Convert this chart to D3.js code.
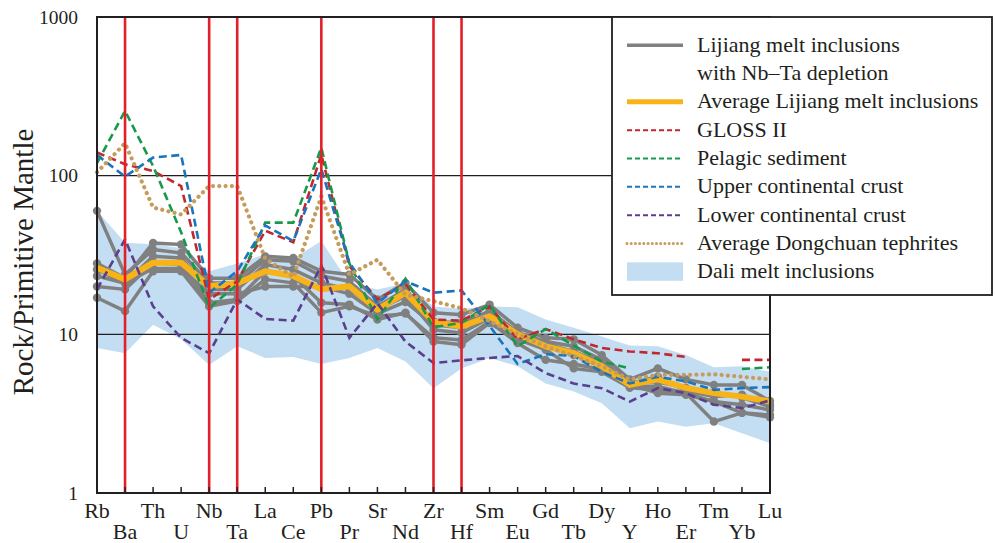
<!DOCTYPE html>
<html>
<head>
<meta charset="utf-8">
<script src="https://cdn.jsdelivr.net/npm/d3@7"></script>
<style>
  html, body { margin: 0; padding: 0; background: #fff; }
  svg { display: block; }
  svg text { font-family: "Liberation Serif", "Times New Roman", Times, "DejaVu Serif", serif; }
</style>
</head>
<body>
<svg id="chart" width="995" height="543"></svg>
<script>
// Primitive-mantle normalised trace element patterns
const elements = ["Rb","Ba","Th","U","Nb","Ta","La","Ce","Pb","Pr","Sr","Nd","Zr","Hf",
                  "Sm","Eu","Gd","Tb","Dy","Y","Ho","Er","Tm","Yb","Lu"];
const yTicks = [1, 10, 100, 1000];
const markedElements = ["Ba","Nb","Ta","Pb","Zr","Hf"];

// Individual Lijiang melt inclusions with Nb–Ta depletion
const lijiang1 = [28, 22.6, 37.7, 36.8, 22.6, 22.6, 31, 30.3, 25, 23.8, 16.6, 21.1, 13.7, 13.3, 15.4, 11, 9.5, 9.3, 7.4, 5.2, 6.1, 5.2, 4.8, 4.8, 3.8];
const lijiang2 = [60, 23.8, 34.2, 32.6, 21.1, 21.1, 29.5, 28.9, 23.3, 21.6, 15, 19.2, 12.1, 11.8, 14, 10.3, 9, 8.4, 6.9, 4.9, 5.4, 4.4, 4.05, 4.16, 3.6];
const lijiang3 = [25.6, 21.1, 31, 30.3, 19.2, 19.2, 27.5, 25.6, 21.1, 19.2, 14.3, 17.4, 10.7, 10.2, 12.7, 9.7, 8.4, 7.4, 6.3, 4.7, 4.7, 4.26, 3.77, 3.6, 3.34];
const lijiang4 = [20, 19.2, 28.3, 27.5, 15.8, 16.6, 25, 23.3, 15.8, 15.4, 12.4, 13.7, 9.0, 8.6, 11.8, 9.3, 8, 6.1, 5.8, 4.6, 4.47, 4.26, 2.82, 3.2, 3.1];
const lijiang5 = [17, 14, 25, 25, 15, 16.2, 22.2, 21.1, 13.7, 15, 13, 13.5, 9.5, 9.2, 12, 8.8, 6.9, 6.5, 6, 4.8, 4.26, 4.16, 3.77, 3.2, 3.0];
const lijiang6 = [23.3, 21, 26, 26, 18, 18, 20, 20, 20, 18, 13.5, 16, 11.5, 11, 13, 10, 8.7, 7.8, 6.6, 5, 5, 4.6, 4.3, 4, 3.5];
const lijiangSamples = [lijiang1, lijiang2, lijiang3, lijiang4, lijiang5, lijiang6];

const lijiangAverage = [26.3, 22.2, 28.3, 28.3, 20.1, 21, 25, 23.3, 19.2, 20.1, 14.3, 18.3, 12, 11.2, 13, 10, 8.4, 7.6, 6.3, 4.8, 5.2, 4.6, 4.26, 4.05, 3.77];

// Reference reservoirs (null = not reported)
const glossII   = [140, 118, 107, 86, 16.6, 21.6, 45, 38, 136, 26.9, 16.6, 20.8, 12.4, 12.2, 15, 9.3, 10.8, 9.3, 8.2, 7.8, 7.6, 7.2, null, 6.9, 6.9];
const pelagic   = [120, 256, 115, 44, 14.7, 20.6, 50.6, 50.6, 150, 28, 12.4, 22.4, 11.1, 11.8, 15.4, 8.4, 10.8, 8.5, 6.75, 6.1, null, null, null, 6.05, 6.2];
const upperCC   = [135, 98.7, 130, 135, 18.3, 25, 48.6, 38.7, 110, 28.3, 15.7, 21.6, 18.3, 18.9, 11.3, 6.5, 7.5, 7.3, 5.8, 4.9, 5.4, 5.05, 4.47, 4.58, 4.65];
const lowerCC   = [19.2, 39.7, 15, 9.5, 7.6, 16.6, 12.5, 12.2, 27.2, 9.5, 15.7, 9.0, 6.6, 6.85, 7.1, 7.3, 5.7, 4.9, 4.58, 3.77, 4.58, 4.26, 3.6, 3.43, 3.83];
const dongchuan = [105, 160, 63, 57, 86, 86, 30, 23, 74, 23.8, 29.5, 17.8, 16.2, 14.6, 12.1, 10, 8.4, 7.3, 6.3, 5.2, 5.55, 5.55, 5.6, 5.4, 5.2];

// Range of Dali melt inclusions
const daliUpper = [60, 37.8, 37, 35, 25, 28, 32, 30, 38.7, 21, 19.2, 21, 15, 14.5, 15, 14.8, 12.4, 11, 9.7, 8.5, 8.4, 7.4, 6.2, 6.3, 5.8];
const daliLower = [8.2, 7.6, 11.5, 9.3, 6.4, 8.4, 7.1, 7.2, 6.5, 7.1, 8.2, 6.75, 4.58, 6.1, 7.1, 6.3, 4.9, 4.37, 3.68, 2.56, 2.82, 2.62, 2.75, 2.38, 2.06];

const legendLabels = [
  ["Lijiang melt inclusions", "with Nb\u2013Ta depletion"],
  ["Average Lijiang melt inclusions"],
  ["GLOSS II"],
  ["Pelagic sediment"],
  ["Upper continental crust"],
  ["Lower continental crust"],
  ["Average Dongchuan tephrites"],
  ["Dali melt inclusions"]
];

const svg = d3.select("#chart");
const plotLeft = 97, plotRight = 770, plotTop = 17, plotBottom = 493;
const serif = "'Liberation Serif', 'Times New Roman', Times, 'DejaVu Serif', serif";

const x = d3.scalePoint().domain(elements).range([plotLeft, plotRight]);
const y = d3.scaleLog().domain([1, 1000]).range([plotBottom, plotTop]);

const ink = "#231f20";
const colors = {
  gray: "#808080", avg: "#f7b318", gloss: "#c1272d", pelagic: "#17994a",
  ucc: "#1b75bc", lcc: "#5b3e8c", dong: "#c69c5d", band: "#c3def3", marker: "#e3202a"
};

// Dali field
const area = d3.area()
  .x((d, i) => x(elements[i]))
  .y0((d, i) => y(daliLower[i]))
  .y1(d => y(d));
svg.append("path").attr("d", area(daliUpper)).attr("fill", colors.band);

// Horizontal reference lines at 10 and 100
svg.append("g").selectAll("line").data([10, 100]).join("line")
  .attr("x1", plotLeft).attr("x2", plotRight)
  .attr("y1", d => y(d)).attr("y2", d => y(d))
  .attr("stroke", ink).attr("stroke-width", 1.3);

const line = d3.line()
  .defined(d => d != null)
  .x((d, i) => x(elements[i]))
  .y(d => y(d));

// Individual inclusions with markers
const grayG = svg.append("g");
lijiangSamples.forEach(s => {
  grayG.append("path").attr("d", line(s)).attr("fill", "none")
    .attr("stroke", colors.gray).attr("stroke-width", 3.5).attr("stroke-linejoin", "round");
  grayG.append("g").selectAll("circle").data(s).join("circle")
    .attr("cx", (d, i) => x(elements[i])).attr("cy", d => y(d)).attr("r", 4.2)
    .attr("fill", colors.gray);
});

// Average
svg.append("path").attr("d", line(lijiangAverage)).attr("fill", "none")
  .attr("stroke", colors.avg).attr("stroke-width", 6).attr("stroke-linejoin", "round");

// Reference reservoirs
const refs = [
  [glossII, colors.gloss], [pelagic, colors.pelagic], [upperCC, colors.ucc], [lowerCC, colors.lcc]
];
refs.forEach(([s, c]) => {
  svg.append("path").attr("d", line(s)).attr("fill", "none")
    .attr("stroke", c).attr("stroke-width", 2.6).attr("stroke-dasharray", "8 4.5");
});
svg.append("path").attr("d", line(dongchuan)).attr("fill", "none")
  .attr("stroke", colors.dong).attr("stroke-width", 4.2)
  .attr("stroke-linecap", "round").attr("stroke-dasharray", "0.01 6.3");

// Vertical markers at anomaly elements
svg.append("g").selectAll("line").data(markedElements).join("line")
  .attr("x1", d => x(d)).attr("x2", d => x(d))
  .attr("y1", plotTop).attr("y2", plotBottom)
  .attr("stroke", colors.marker).attr("stroke-width", 2.6);

// Frame
svg.append("rect").attr("x", plotLeft).attr("y", plotTop)
  .attr("width", plotRight - plotLeft).attr("height", plotBottom - plotTop)
  .attr("fill", "none").attr("stroke", ink).attr("stroke-width", 2);

// Bottom axis: inward ticks, labels on two staggered rows
const xAxis = svg.append("g");
xAxis.selectAll("line").data(elements).join("line")
  .attr("x1", d => x(d)).attr("x2", d => x(d))
  .attr("y1", plotBottom).attr("y2", plotBottom - 6)
  .attr("stroke", ink).attr("stroke-width", 1.5);
xAxis.selectAll("text").data(elements).join("text")
  .attr("x", d => x(d))
  .attr("y", (d, i) => i % 2 === 0 ? 518 : 538.5)
  .attr("text-anchor", "middle")
  .attr("font-family", serif)
  .attr("font-size", 22).attr("fill", ink)
  .text(d => d);

// Left axis labels
svg.append("g").selectAll("text").data(yTicks).join("text")
  .attr("x", 78).attr("y", d => y(d) + 6.5)
  .attr("text-anchor", "end").attr("font-family", serif)
  .attr("font-size", 19.5).attr("fill", ink)
  .text(d => d3.format("d")(d));

svg.append("text")
  .attr("transform", "translate(33,262) rotate(-90)")
  .attr("text-anchor", "middle").attr("font-family", serif)
  .attr("font-size", 29).attr("fill", ink)
  .text("Rock/Primitive Mantle");

// Legend
const lg = svg.append("g");
lg.append("rect").attr("x", 612).attr("y", 17).attr("width", 380).attr("height", 278)
  .attr("fill", "#fff").attr("stroke", ink).attr("stroke-width", 1.8);

const sx0 = 627, sx1 = 683, tx = 697;
const rowBase = [51.7, 108.3, 136.7, 165, 193.3, 221.7, 250, 278.3];
const swatches = [
  { stroke: colors.gray, w: 3.5 },
  { stroke: colors.avg, w: 5 },
  { stroke: colors.gloss, w: 2, dash: "5 3" },
  { stroke: colors.pelagic, w: 2, dash: "5 3" },
  { stroke: colors.ucc, w: 2, dash: "5 3" },
  { stroke: colors.lcc, w: 2, dash: "5 3" },
  { stroke: colors.dong, w: 3, dash: "0.01 4.2", cap: "round" },
  { fill: colors.band }
];
swatches.forEach((s, i) => {
  const cy = rowBase[i] - 6.5;
  if (s.fill) {
    lg.append("rect").attr("x", sx0).attr("y", cy - 9.5).attr("width", sx1 - sx0).attr("height", 18.5)
      .attr("fill", s.fill);
  } else {
    lg.append("line").attr("x1", sx0).attr("x2", sx1).attr("y1", cy).attr("y2", cy)
      .attr("stroke", s.stroke).attr("stroke-width", s.w)
      .attr("stroke-dasharray", s.dash || null)
      .attr("stroke-linecap", s.cap || "butt");
  }
  legendLabels[i].forEach((t, j) => {
    lg.append("text").attr("x", tx).attr("y", rowBase[i] + j * 28.3)
      .attr("font-family", serif)
      .attr("font-size", 22).attr("fill", ink).text(t);
  });
});
</script>
</body>
</html>
